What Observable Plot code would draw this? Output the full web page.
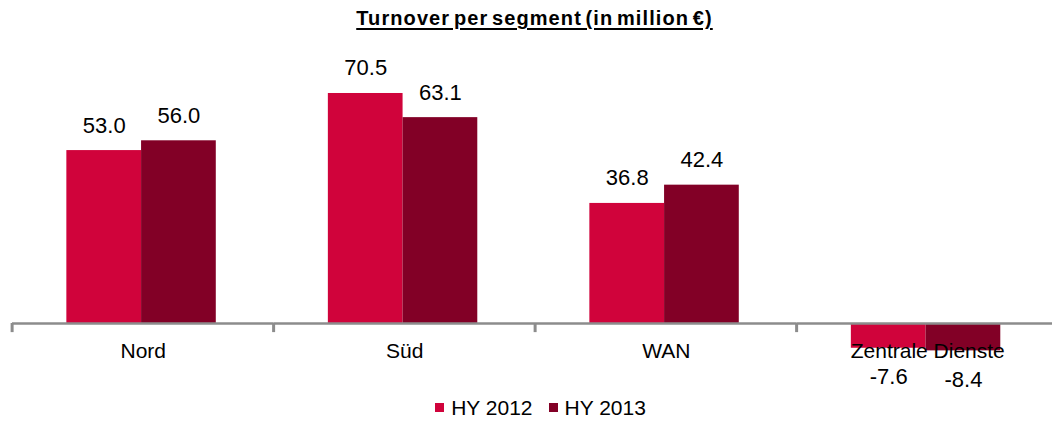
<!DOCTYPE html>
<html>
<head>
<meta charset="utf-8">
<script src="https://cdn.jsdelivr.net/npm/d3@7"></script>
<script src="https://cdn.jsdelivr.net/npm/@observablehq/plot@0.6"></script>
<style>
  html, body { margin: 0; padding: 0; background: #fff; overflow: hidden; }
  body { width: 1052px; height: 421px; font-family: "Liberation Sans", Arial, sans-serif; }
  #wrap { width: 1069px; }
  #title { height: 40px; text-align: center; font-weight: bold; font-size: 20px; letter-spacing: 1.1px; word-spacing: -3px; line-height: 37px; color: #000; }
  #title span { text-decoration: underline; text-decoration-thickness: 2px; text-underline-offset: 3px; }
  #chart svg { display: block; overflow: visible; }
  #legend { height: 26px; line-height: 26px; text-align: center; font-size: 21px; color: #000; padding-left: 12px; }
  .item { display: inline-block; margin: 0 8px; }
  .sw { display: inline-block; width: 9px; height: 9px; margin-right: 7px; vertical-align: 3px; }
</style>
</head>
<body>
<div id="wrap">
  <div id="title"><span>Turnover per segment (in million €)</span></div>
  <div id="chart"></div>
  <div id="legend"></div>
</div>
<script>
const segments = ["Nord", "Süd", "WAN", "Zentrale Dienste"];
const years = ["HY 2012", "HY 2013"];
const hy2012 = [53.0, 70.5, 36.8, -7.6];
const hy2013 = [56.0, 63.1, 42.4, -8.4];
const colors = ["#D0033B", "#820026"];

const data = [];
segments.forEach((s, i) => {
  data.push({segment: s, year: years[0], value: hy2012[i]});
  data.push({segment: s, year: years[1], value: hy2013[i]});
});

const font = "'Liberation Sans', Arial, sans-serif";
const pad = 0.75;

const chart = Plot.plot({
  width: 1069,
  height: 355,
  marginLeft: 12,
  marginRight: 11,
  marginTop: 22,
  marginBottom: 39.4,
  style: {fontFamily: font, fontSize: "21px", color: "#000", background: "transparent", overflow: "visible"},
  fx: {domain: segments, padding: 0, round: false, axis: null},
  x: {domain: years, paddingInner: 0, paddingOuter: pad, align: 0.485, round: false, axis: null},
  y: {domain: [-10, 80], axis: null},
  color: {domain: years, range: colors},
  marks: [
    Plot.barY(data, {fx: "segment", x: "year", y: "value", fill: "year", inset: 0}),
    Plot.ruleY([0], {stroke: "#8c8c8c", strokeWidth: 2.5}),
    Plot.ruleX(segments, {fx: d => d, x: () => years[0], y1: () => 0, y2: () => -2.8, dx: -92.1, stroke: "#8c8c8c", strokeWidth: 3}),
    Plot.text(data.filter(d => d.value >= 0), {fx: "segment", x: "year", y: "value", text: d => d.value.toFixed(1), lineAnchor: "bottom", dy: -18, fontSize: 22, fill: "#000"}),
    Plot.text(data.filter(d => d.value < 0), {fx: "segment", x: "year", y: "value", text: d => d.value.toFixed(1), lineAnchor: "top", dy: 20, fontSize: 22, fill: "#000"}),
    Plot.text(segments, {fx: d => d, y: () => 0, text: d => d, dy: 28, lineAnchor: "middle", fontSize: 21, fill: "#000"})
  ]
});
document.getElementById("chart").appendChild(chart);

const legend = document.getElementById("legend");
years.forEach((y, i) => {
  const item = document.createElement("span");
  item.className = "item";
  const sw = document.createElement("span");
  sw.className = "sw";
  sw.style.background = colors[i];
  item.appendChild(sw);
  item.appendChild(document.createTextNode(y));
  legend.appendChild(item);
});
</script>
</body>
</html>
